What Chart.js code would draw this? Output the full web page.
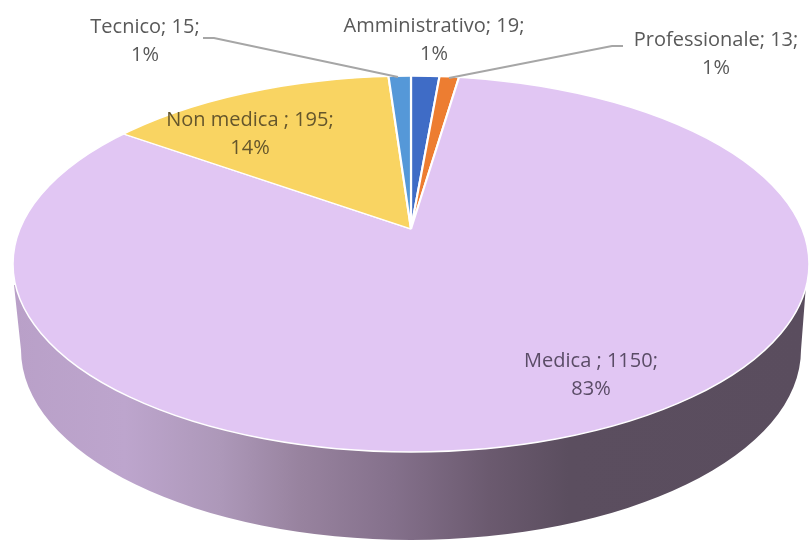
<!DOCTYPE html>
<html>
<head>
<meta charset="utf-8">
<script src="https://cdn.jsdelivr.net/npm/chart.js@4"></script>
<style>
  html, body { margin: 0; padding: 0; background: #fff; }
  canvas { display: block; }
</style>
</head>
<body>
<canvas id="myChart" width="809" height="540"></canvas>
<script>
// Data, clockwise from 12 o'clock
var categories = ["Amministrativo", "Professionale", "Medica ", "Non medica ", "Tecnico"];
var values = [19, 13, 1150, 195, 15];
var colors = ["#3f6cc6", "#ed7d31", "#e1c6f3", "#f9d462", "#5598d8"];

// Top face of the pie and the lower rim of the 3D side
var apex = { x: 411, y: 229 };
var top3d = { x: 411, y: 264, rx: 398, ry: 188 };
var low3d = { x: 411, y: 350, rx: 390, ry: 190 };
var scaleX = 2.2, scaleY = 1.012;

// Where each label sits: [center x, first line y, text colour]
var labelPos = [
    [434, 26, "#595959"],
    [716, 40, "#595959"],
    [591, 361, "#5a4c66"],
    [250, 120, "#65562c"],
    [145, 27, "#595959"]
];
var leaders = [
    [[203, 38], [214, 38], [398, 77]],
    [[623, 46], [612, 46], [449, 78]]
];

var pie3d = {
    id: "pie3d",
    beforeDatasetDraw: function(chart) {
        var ctx = chart.ctx;
        // side of the pie
        var grad = ctx.createLinearGradient(14, 0, 806, 0);
        grad.addColorStop(0, "#b9a0c8");
        grad.addColorStop(0.14, "#bda5cd");
        grad.addColorStop(0.26, "#ad98b9");
        grad.addColorStop(0.36, "#98839f");
        grad.addColorStop(0.48, "#84708b");
        grad.addColorStop(0.6, "#6b5a6f");
        grad.addColorStop(0.7, "#5b4e5f");
        grad.addColorStop(1, "#5a4d5e");
        ctx.save();
        ctx.fillStyle = grad;
        ctx.beginPath();
        ctx.moveTo(14, 285);
        ctx.lineTo(low3d.x - low3d.rx, low3d.y);
        ctx.ellipse(low3d.x, low3d.y, low3d.rx, low3d.ry, 0, Math.PI, 0, true);
        ctx.lineTo(806, 285);
        ctx.closePath();
        ctx.fill();
        ctx.restore();

        // top face: library arcs squashed around the apex, cut by the ellipse
        ctx.save();
        ctx.beginPath();
        ctx.ellipse(top3d.x, top3d.y, top3d.rx, top3d.ry, 0, 0, Math.PI * 2);
        ctx.clip();
        ctx.translate(apex.x, apex.y);
        ctx.scale(scaleX, scaleY);
        ctx.translate(-apex.x, -apex.y);
    },
    afterDatasetDraw: function(chart) {
        var ctx = chart.ctx;
        ctx.restore();

        ctx.strokeStyle = "#ffffff";
        ctx.lineWidth = 1.5;
        ctx.beginPath();
        ctx.ellipse(top3d.x, top3d.y, top3d.rx, top3d.ry, 0, 0, Math.PI * 2);
        ctx.stroke();

        // leader lines
        ctx.strokeStyle = "#a6a6a6";
        ctx.lineWidth = 2;
        leaders.forEach(function(line) {
            ctx.beginPath();
            line.forEach(function(p, i) {
                if (i == 0) ctx.moveTo(p[0], p[1]);
                else ctx.lineTo(p[0], p[1]);
            });
            ctx.stroke();
        });

        // labels
        var total = values.reduce(function(a, b) { return a + b; }, 0);
        ctx.font = "20px 'Open Sans'";
        ctx.textAlign = "center";
        ctx.textBaseline = "middle";
        categories.forEach(function(name, i) {
            ctx.fillStyle = labelPos[i][2];
            ctx.fillText(name + "; " + values[i] + ";", labelPos[i][0], labelPos[i][1]);
            ctx.fillText(Math.round(values[i] / total * 100) + "%", labelPos[i][0], labelPos[i][1] + 28);
        });
    }
};

var chart = new Chart(document.getElementById("myChart").getContext("2d"), {
    type: "pie",
    data: {
        labels: categories,
        datasets: [{
            data: values,
            backgroundColor: colors,
            borderColor: "#ffffff",
            borderWidth: 1,
            clip: false
        }]
    },
    options: {
        responsive: false,
        animation: false,
        layout: { padding: { left: 13, right: 0, top: 0, bottom: 82 } },
        plugins: {
            legend: { display: false },
            tooltip: { enabled: false }
        }
    },
    plugins: [pie3d]
});
</script>
</body>
</html>
